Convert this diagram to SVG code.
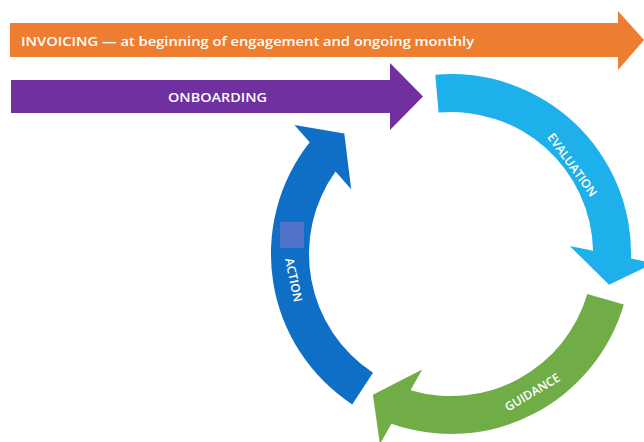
<svg xmlns="http://www.w3.org/2000/svg" width="644" height="442" viewBox="0 0 644 442">
  <style>
    .lbl { font-family: "Open Sans", "Liberation Sans", sans-serif; fill: #ffffff; font-size: 13px; font-weight: 600; }
    .arc-lbl { font-family: "Open Sans", "Liberation Sans", sans-serif; fill: #ffffff; font-size: 12px; font-weight: 600; text-anchor: middle; }
  </style>
  <rect width="644" height="442" fill="#ffffff"/>
  <g id="invoicing">
    <path d="M10,23 H618 V11 L644,40 L618,70 V57 H10 Z" fill="#ED7D31"/>
    <text class="lbl" x="21" y="46" textLength="453" lengthAdjust="spacingAndGlyphs">INVOICING — at beginning of engagement and ongoing monthly</text>
  </g>
  <g id="onboarding">
    <path d="M11,80 H390 V63 L423,96.5 L390,130 V113 H11 Z" fill="#7030A0"/>
    <text class="lbl" x="168" y="102" textLength="99" lengthAdjust="spacingAndGlyphs">ONBOARDING</text>
  </g>
  <g id="evaluation">
    <path d="M435.3,74.7 A180,180 0 0 1 631.1,258.5 L653.8,263.2 L609,284.7 L569.7,245.9 L593.1,250.7 A142,142 0 0 0 438.6,112.5 Z" fill="#1EB0EA"/>
    <text class="arc-lbl" x="0" y="4" transform="translate(572,165) rotate(54)">EVALUATION</text>
  </g>
  <g id="guidance">
    <path d="M623.8,304.5 A180,180 0 0 1 391.4,423.8 L379.9,444.1 L372.9,394.8 L422.2,369.5 L410.5,390.2 A142,142 0 0 0 587.3,293.9 Z" fill="#70AD47"/>
    <text class="arc-lbl" x="0" y="4" transform="translate(532.5,392.5) rotate(-31)">GUIDANCE</text>
  </g>
  <g id="action">
    <path d="M352.2,404.4 A180,180 0 0 1 309.7,142.3 L294.4,124.9 L344.3,133.4 L351.2,189.2 L335.5,171.4 A142,142 0 0 0 373,372.7 Z" fill="#0F6FC6"/>
    <rect x="280" y="222" width="24" height="26" fill="#5072C8"/>
    <text class="arc-lbl" x="0" y="4" transform="translate(293.5,280) rotate(78)">ACTION</text>
  </g>
</svg>
